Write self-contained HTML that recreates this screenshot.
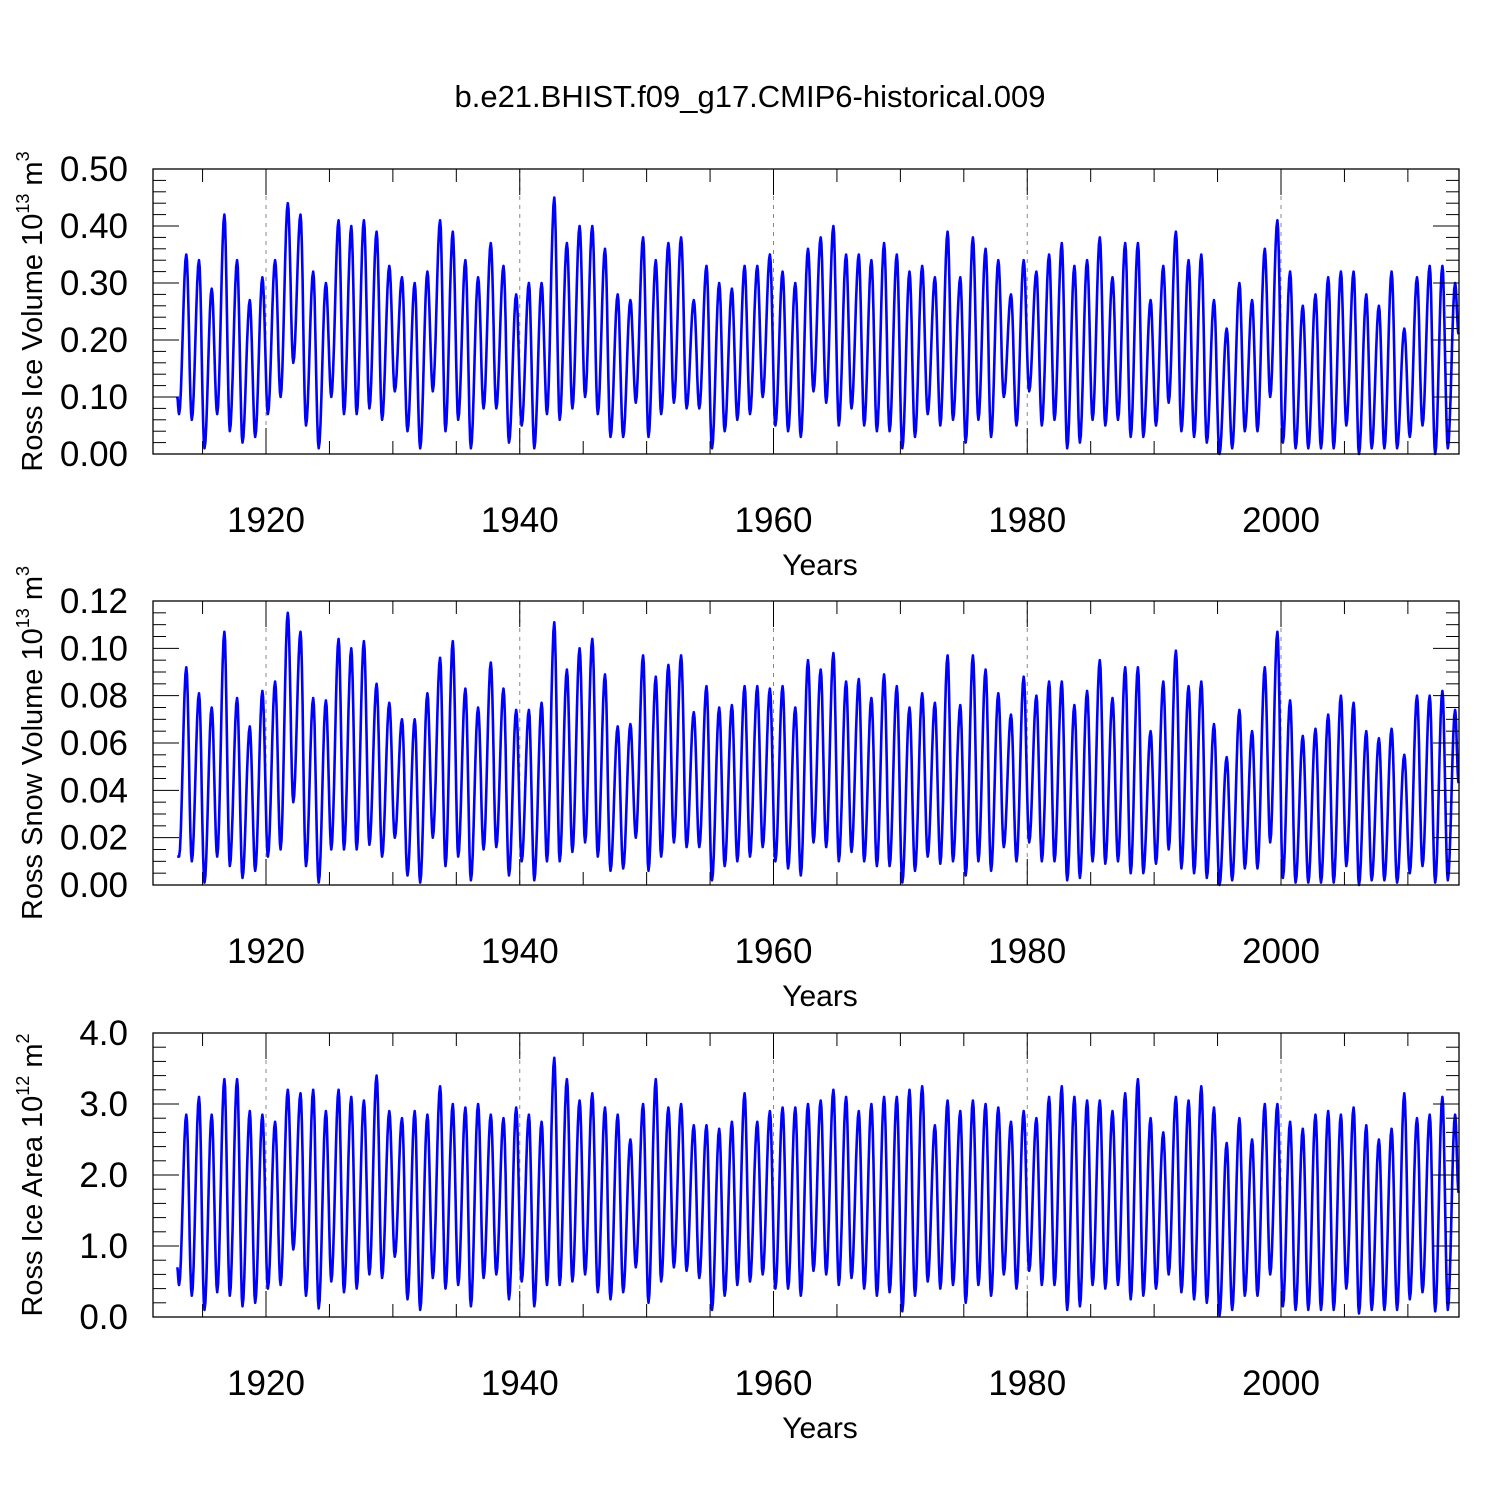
<!DOCTYPE html>
<html><head><meta charset="utf-8"><style>
body{margin:0;background:#fff}
svg{display:block;font-family:"Liberation Sans",sans-serif}
</style></head><body>
<svg id="c" width="1500" height="1500" viewBox="0 0 1500 1500">
<text x="750" y="107" font-size="31" text-anchor="middle">b.e21.BHIST.f09_g17.CMIP6-historical.009</text>
</svg>
<script>
const years=[];for(let y=1913;y<=2013;y++)years.push(y);
const icePeaks=[0.35,0.34,0.29,0.42,0.34,0.27,0.31,0.34,0.44,0.42,0.32,0.30,0.41,0.40,0.41,0.39,0.33,0.31,0.30,0.32,0.41,0.39,0.34,0.31,0.37,0.33,0.28,0.30,0.30,0.45,0.37,0.40,0.40,0.36,0.28,0.27,0.38,0.34,0.37,0.38,0.27,0.33,0.30,0.29,0.33,0.33,0.35,0.32,0.30,0.36,0.38,0.40,0.35,0.35,0.34,0.37,0.35,0.32,0.33,0.31,0.39,0.31,0.38,0.36,0.34,0.28,0.34,0.32,0.35,0.37,0.33,0.34,0.38,0.31,0.37,0.37,0.27,0.33,0.39,0.34,0.35,0.27,0.22,0.30,0.27,0.36,0.41,0.32,0.26,0.28,0.31,0.32,0.32,0.28,0.26,0.32,0.22,0.31,0.33,0.33,0.30];
const iceTroughs=[0.07,0.06,0.01,0.07,0.04,0.02,0.03,0.07,0.10,0.16,0.05,0.01,0.10,0.07,0.07,0.08,0.06,0.11,0.04,0.01,0.11,0.04,0.06,0.01,0.08,0.08,0.02,0.05,0.01,0.07,0.06,0.08,0.10,0.07,0.03,0.03,0.09,0.03,0.07,0.09,0.08,0.08,0.01,0.04,0.06,0.07,0.10,0.05,0.04,0.03,0.11,0.09,0.05,0.08,0.05,0.04,0.04,0.01,0.03,0.07,0.05,0.06,0.02,0.06,0.03,0.10,0.05,0.11,0.05,0.06,0.01,0.02,0.06,0.05,0.06,0.03,0.03,0.05,0.09,0.04,0.03,0.02,0.00,0.01,0.04,0.04,0.10,0.02,0.01,0.01,0.01,0.01,0.05,0.00,0.01,0.01,0.01,0.03,0.05,0.00,0.01,0.21];
const snowPeaks=[0.092,0.081,0.075,0.107,0.079,0.067,0.082,0.086,0.115,0.107,0.079,0.078,0.104,0.100,0.103,0.085,0.077,0.070,0.070,0.081,0.096,0.103,0.083,0.075,0.094,0.083,0.074,0.074,0.077,0.111,0.091,0.100,0.104,0.089,0.067,0.068,0.097,0.088,0.093,0.097,0.073,0.084,0.075,0.076,0.084,0.084,0.083,0.084,0.075,0.095,0.091,0.098,0.086,0.087,0.079,0.089,0.084,0.075,0.081,0.077,0.097,0.076,0.097,0.091,0.081,0.072,0.088,0.080,0.086,0.086,0.076,0.082,0.095,0.079,0.092,0.092,0.065,0.086,0.099,0.084,0.086,0.068,0.054,0.074,0.065,0.092,0.107,0.078,0.063,0.066,0.072,0.080,0.077,0.065,0.062,0.066,0.055,0.080,0.080,0.082,0.074];
const snowTroughs=[0.012,0.010,0.001,0.012,0.008,0.003,0.006,0.012,0.015,0.035,0.008,0.001,0.015,0.015,0.015,0.017,0.012,0.020,0.004,0.001,0.020,0.008,0.012,0.002,0.015,0.016,0.004,0.010,0.002,0.010,0.010,0.014,0.018,0.012,0.006,0.007,0.020,0.006,0.012,0.018,0.016,0.016,0.002,0.008,0.010,0.012,0.016,0.010,0.007,0.004,0.018,0.016,0.010,0.014,0.010,0.008,0.008,0.001,0.006,0.012,0.009,0.010,0.004,0.010,0.006,0.016,0.010,0.018,0.010,0.010,0.002,0.003,0.010,0.009,0.010,0.005,0.005,0.009,0.015,0.007,0.005,0.003,0.000,0.002,0.007,0.007,0.018,0.003,0.001,0.001,0.001,0.001,0.008,0.000,0.002,0.002,0.001,0.005,0.008,0.001,0.002,0.043];
const areaPeaks=[2.85,3.1,2.85,3.35,3.35,2.9,2.85,2.75,3.2,3.15,3.2,2.9,3.2,3.1,3.05,3.4,2.9,2.8,2.9,2.85,3.25,3.0,2.95,3.0,2.85,2.8,2.95,2.85,2.75,3.65,3.35,3.05,3.15,2.95,2.85,2.5,3.0,3.35,2.95,3.0,2.7,2.7,2.65,2.75,3.15,2.75,2.9,2.95,2.95,3.0,3.05,3.2,3.1,2.9,3.0,3.1,3.1,3.2,3.25,2.7,3.05,2.9,3.05,3.0,2.95,2.75,2.9,2.8,3.1,3.25,3.1,3.05,3.05,2.9,3.15,3.35,2.8,2.6,3.1,3.05,3.25,2.95,2.45,2.8,2.5,3.0,3.0,2.75,2.65,2.85,2.9,2.85,2.95,2.7,2.5,2.65,3.15,2.8,2.85,3.1,2.85];
const areaTroughs=[0.45,0.30,0.10,0.35,0.30,0.15,0.20,0.40,0.45,0.95,0.30,0.12,0.50,0.35,0.40,0.60,0.55,0.85,0.25,0.10,0.55,0.40,0.45,0.15,0.55,0.60,0.25,0.50,0.15,0.45,0.45,0.50,0.60,0.35,0.25,0.35,0.70,0.20,0.50,0.70,0.65,0.55,0.10,0.30,0.45,0.50,0.60,0.40,0.40,0.30,0.65,0.60,0.45,0.55,0.40,0.30,0.35,0.08,0.30,0.50,0.40,0.45,0.20,0.45,0.30,0.60,0.40,0.65,0.45,0.45,0.10,0.15,0.45,0.40,0.45,0.25,0.30,0.40,0.60,0.35,0.25,0.20,0.02,0.10,0.30,0.30,0.60,0.15,0.10,0.10,0.10,0.10,0.40,0.05,0.10,0.10,0.10,0.25,0.35,0.08,0.10,1.75];
const xTicks=[1920,1940,1960,1980,2000];
const svg=document.getElementById('c');const NS='http://www.w3.org/2000/svg';
function mk(t,a,p){const e=document.createElementNS(NS,t);for(const k in a)e.setAttribute(k,a[k]);(p||svg).appendChild(e);return e;}
const X0=153,X1=1459;
const xs=v=>266+(v-1920)*(1281-266)/80;
function panel(top,bot,ymax,step,minorStep,fmt,peaks,troughs,title,name,startVal){
  const g=mk('g',{});
  
  
  const ys=v=>bot-(v/ymax)*(bot-top);
  for(const t of xTicks){mk('line',{x1:xs(t),x2:xs(t),y1:top,y2:bot,stroke:'#888','stroke-width':1,'stroke-dasharray':'4,5'},g);}
  const pts=[[1913.0,startVal]];
  for(let i=0;i<years.length;i++){pts.push([years[i]+0.15,troughs[i]]);pts.push([years[i]+0.72,peaks[i]]);}
  pts.push([2014.0,troughs[troughs.length-1]]);
  let d='';
  for(let i=0;i<pts.length-1;i++){const [a,va]=pts[i],[b,vb]=pts[i+1];
    for(let k=0;k<=8;k++){const f=k/8,t=a+(b-a)*f,v=va+(vb-va)*(1-Math.cos(Math.PI*f))/2;
      d+=(d?'L':'M')+xs(t).toFixed(1)+','+ys(v).toFixed(1);}}
  const p=mk('path',{d:d,fill:'none',stroke:'#0000ff','stroke-width':2.6,'stroke-linejoin':'round'},g);
  
  
  mk('rect',{x:X0,y:top,width:X1-X0,height:bot-top,fill:'none',stroke:'#000','stroke-width':1.3},g);
  const n=Math.round(ymax/minorStep);
  for(let i=0;i<=n;i++){const v=i*minorStep,y=ys(v),maj=Math.abs(v/step-Math.round(v/step))<1e-6,L=maj?26:13;
    mk('line',{x1:X0,x2:X0+L,y1:y,y2:y,stroke:'#000','stroke-width':1},g);
    mk('line',{x1:X1,x2:X1-L,y1:y,y2:y,stroke:'#000','stroke-width':1},g);
    if(maj){const tx=mk('text',{x:128,y:y+12,'font-size':35,'text-anchor':'end'},g);tx.textContent=fmt(v);
      }}
  for(let yr=1915;yr<=2010;yr+=5){const x=xs(yr),maj=yr%20===0,L=maj?26:13;
    mk('line',{x1:x,x2:x,y1:bot,y2:bot-L,stroke:'#000','stroke-width':1},g);
    mk('line',{x1:x,x2:x,y1:top,y2:top+L,stroke:'#000','stroke-width':1},g);
    if(maj){const tx=mk('text',{x:x,y:bot+78,'font-size':35,'text-anchor':'middle'},g);tx.textContent=yr;
      }}
  const xt=mk('text',{x:820,y:bot+121,'font-size':30,'text-anchor':'middle'},g);xt.textContent='Years';
  
  const yt=mk('text',{transform:`translate(42,${(top+bot)/2}) rotate(-90)`,'font-size':29,'text-anchor':'middle'},g);
  yt.innerHTML=title;
  
}
panel(169,454,0.5,0.1,0.02,v=>v.toFixed(2),icePeaks,iceTroughs,'Ross Ice Volume 10<tspan dy="-13" font-size="18">13</tspan><tspan dy="13"> m</tspan><tspan dy="-13" font-size="18">3</tspan>','ice-volume-panel',0.10);
panel(601,885,0.12,0.02,0.005,v=>v.toFixed(2),snowPeaks,snowTroughs,'Ross Snow Volume 10<tspan dy="-13" font-size="18">13</tspan><tspan dy="13"> m</tspan><tspan dy="-13" font-size="18">3</tspan>','snow-volume-panel',0.012);
panel(1033,1317,4.0,1.0,0.2,v=>v.toFixed(1),areaPeaks,areaTroughs,'Ross Ice Area 10<tspan dy="-13" font-size="18">12</tspan><tspan dy="13"> m</tspan><tspan dy="-13" font-size="18">2</tspan>','ice-area-panel',0.70);
</script>
</body></html>
